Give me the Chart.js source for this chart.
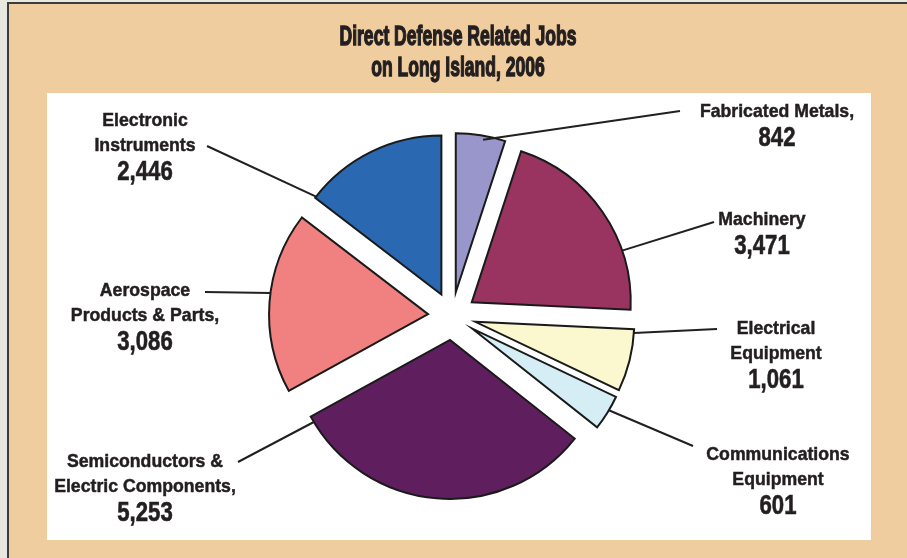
<!DOCTYPE html>
<html>
<head>
<meta charset="utf-8">
<title>Direct Defense Related Jobs on Long Island, 2006</title>
<script src="https://cdn.jsdelivr.net/npm/chart.js@4.4.0/dist/chart.umd.min.js"></script>
<style>
  html, body { margin: 0; padding: 0; background: #f0cd9f; }
  #wrap { width: 907px; height: 558px; }
</style>
</head>
<body>
<div id="wrap"><canvas id="jobsChart" width="907" height="558"></canvas></div>
<script>
const titleLines = ['Direct Defense Related Jobs', 'on Long Island, 2006'];
const categories = [
  ['Fabricated Metals,'],
  ['Machinery'],
  ['Electrical', 'Equipment'],
  ['Communications', 'Equipment'],
  ['Semiconductors &', 'Electric Components,'],
  ['Aerospace', 'Products & Parts,'],
  ['Electronic', 'Instruments']
];
const jobs = [842, 3471, 1061, 601, 5253, 3086, 2446];
const sliceColors = ['#9896ca', '#99335f', '#fbf8d0', '#d5eef5', '#5f1f5f', '#f18080', '#2a68b1'];

// where each label sits, where its leader ends, and where along the slice edge it starts
const labelPos = [
  { x: 777, y: 112, end: [680, 111], at: 0.56, inset: 4 },
  { x: 762, y: 220, end: [714, 222], at: 0.71, inset: 0 },
  { x: 776, y: 329, end: [717, 329], at: 0.06, inset: 0 },
  { x: 778, y: 455, end: [693, 446], at: 0.42, inset: 0 },
  { x: 145, y: 462, end: [238, 462], at: 0.98, inset: 0 },
  { x: 145, y: 291, end: [205, 292], at: 0.55, inset: 0 },
  { x: 145, y: 121, end: [207, 146], at: 0.01, inset: 0 }
];

const INK = '#231f20';
const EXPLODE = 24;

function drawText(ctx, text, x, y, size, squeeze, heavy) {
  ctx.save();
  ctx.translate(x, y);
  ctx.scale(squeeze, 1);
  ctx.font = 'bold ' + size + 'px "Liberation Sans", Arial, sans-serif';
  ctx.textAlign = 'center';
  ctx.textBaseline = 'middle';
  ctx.fillStyle = INK;
  ctx.fillText(text, 0, 0);
  if (heavy) {
    ctx.strokeStyle = INK;
    ctx.lineWidth = heavy;
    ctx.strokeText(text, 0, 0);
  }
  ctx.restore();
}

// panel background, frame and white plot box
const backdrop = {
  id: 'backdrop',
  beforeDraw(chart) {
    const ctx = chart.ctx;
    ctx.save();
    ctx.fillStyle = '#f0cd9f';
    ctx.fillRect(0, 0, chart.width, chart.height);
    ctx.fillStyle = '#e8e8e0';
    ctx.fillRect(0, 0, 7, chart.height);
    ctx.fillRect(0, 0, chart.width, 2);
    ctx.fillStyle = '#3c3c3c';
    ctx.fillRect(7, 2, 2, chart.height);
    ctx.fillRect(7, 2, chart.width, 2);
    ctx.fillStyle = '#ffffff';
    ctx.fillRect(47, 93, 824, 447);
    ctx.restore();
    drawText(ctx, titleLines[0], 458, 38, 27, 0.65, 1.4);
    drawText(ctx, titleLines[1], 458, 69, 27, 0.65, 1.4);
  }
};

// push every slice out from the centre along its mid angle
const explode = {
  id: 'explode',
  beforeDatasetsDraw(chart) {
    const meta = chart.getDatasetMeta(0);
    const area = chart.chartArea;
    const cx = (area.left + area.right) / 2;
    const cy = (area.top + area.bottom) / 2;
    meta.data.forEach(arc => {
      const mid = (arc.startAngle + arc.endAngle) / 2;
      arc.x = cx + Math.cos(mid) * EXPLODE;
      arc.y = cy + Math.sin(mid) * EXPLODE;
    });
  }
};

const callouts = {
  id: 'callouts',
  afterDatasetsDraw(chart) {
    const ctx = chart.ctx;
    const meta = chart.getDatasetMeta(0);
    meta.data.forEach((arc, i) => {
      const p = labelPos[i];
      const a = arc.startAngle + p.at * (arc.endAngle - arc.startAngle);
      const r = arc.outerRadius - p.inset;
      ctx.save();
      ctx.strokeStyle = INK;
      ctx.lineWidth = 2;
      ctx.beginPath();
      ctx.moveTo(arc.x + Math.cos(a) * r, arc.y + Math.sin(a) * r);
      ctx.lineTo(p.end[0], p.end[1]);
      ctx.stroke();
      ctx.restore();

      const lines = categories[i];
      lines.forEach((t, k) => drawText(ctx, t, p.x, p.y + k * 25, 19, 0.93, 0.5));
      const numY = p.y + (lines.length - 1) * 25 + 26.5;
      drawText(ctx, jobs[i].toLocaleString('en-US'), p.x, numY, 27, 0.82, 0.6);
    });
  }
};

new Chart(document.getElementById('jobsChart'), {
  type: 'pie',
  data: {
    labels: categories.map(c => c.join(' ')),
    datasets: [{
      data: jobs,
      backgroundColor: sliceColors,
      borderColor: '#1a1a1a',
      borderWidth: 2,
      borderJoinStyle: 'miter'
    }]
  },
  options: {
    responsive: false,
    animation: false,
    events: [],
    radius: 159,
    layout: { padding: { left: 0, right: 3, top: 74, bottom: 0 } },
    plugins: {
      legend: { display: false },
      title: { display: false },
      tooltip: { enabled: false }
    }
  },
  plugins: [backdrop, explode, callouts]
});
</script>
</body>
</html>
